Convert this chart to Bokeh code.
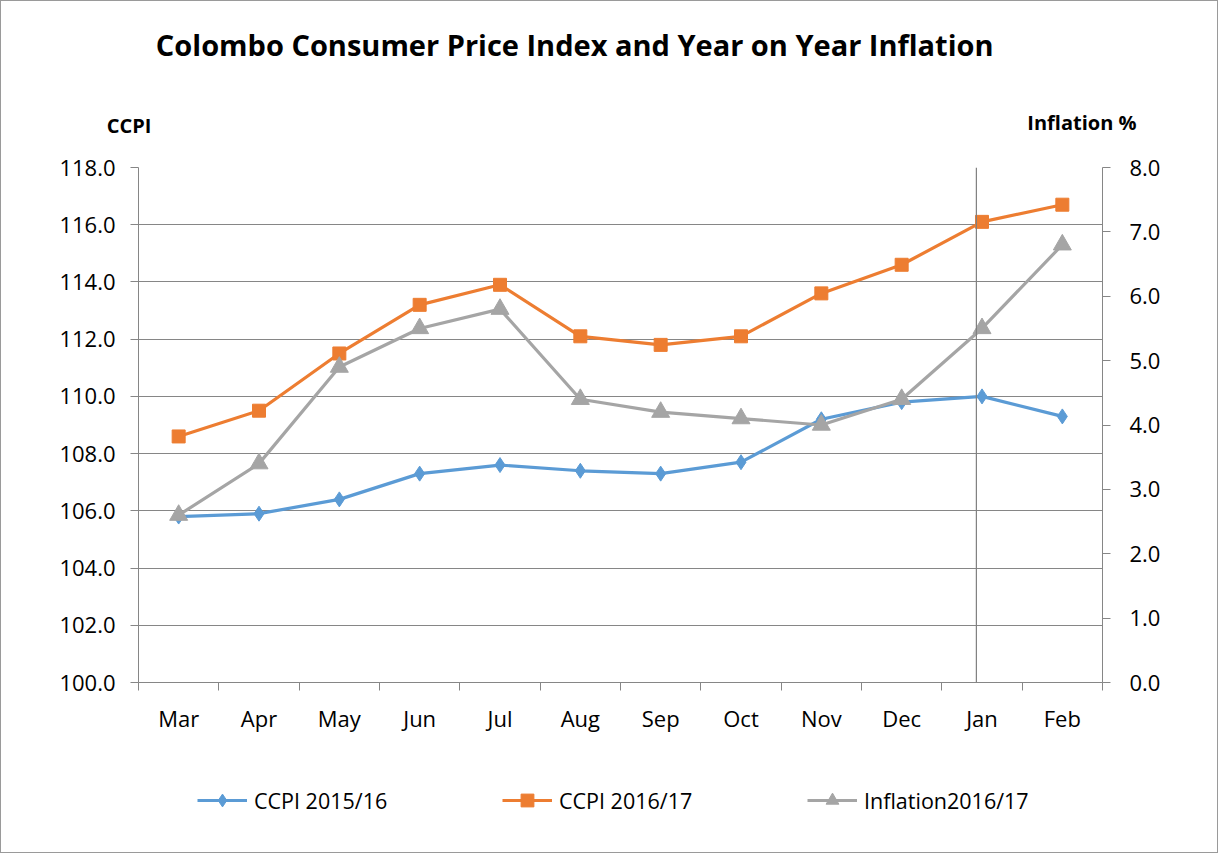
from bokeh.plotting import figure
from bokeh.layouts import column
from bokeh.models import (Range1d, LinearAxis, FixedTicker, Span, Label, Legend, LegendItem,
                          NumeralTickFormatter, Grid)
from bokeh.embed import file_html
from bokeh.resources import INLINE

months = ["Mar", "Apr", "May", "Jun", "Jul", "Aug", "Sep", "Oct", "Nov", "Dec", "Jan", "Feb"]
ccpi_1516 = [105.8, 105.9, 106.4, 107.3, 107.6, 107.4, 107.3, 107.7, 109.2, 109.8, 110.0, 109.3]
ccpi_1617 = [108.6, 109.5, 111.5, 113.2, 113.9, 112.1, 111.8, 112.1, 113.6, 114.6, 116.1, 116.7]
inflation = [2.6, 3.4, 4.9, 5.5, 5.8, 4.4, 4.2, 4.1, 4.0, 4.4, 5.5, 6.8]
left_ticks = [100, 102, 104, 106, 108, 110, 112, 114, 116, 118]
right_ticks = [0, 1, 2, 3, 4, 5, 6, 7, 8]
series_names = ["CCPI 2015/16", "CCPI 2016/17", "Inflation2016/17"]
title_text = "Colombo Consumer Price Index and Year on Year Inflation"

FONT = "Open Sans"
GRID = "#868686"
BLUE = "#5B9BD5"
ORANGE = "#ED7D31"
GRAY = "#A5A5A5"
W = 1216
TOP_H = 146
MAIN_BOTTOM = 60
BOT_H = 110


def bare(fig):
    fig.outline_line_color = None
    fig.xgrid.visible = False
    fig.ygrid.visible = False
    fig.frame_align = False


# ---------- header figure (title + axis captions) ----------
top = figure(output_backend="svg", toolbar_location=None, width=W, height=TOP_H,
             min_border=0, x_range=Range1d(1, W + 1), y_range=Range1d(TOP_H + 1, 1),
             x_axis_type=None, y_axis_type=None)
bare(top)
top.add_layout(Label(x=574.2, y=44, text=title_text,
                     text_font=FONT, text_font_style="bold", text_font_size="29px",
                     text_align="center", text_baseline="middle", text_color="#000000"))
top.add_layout(Label(x=128.5, y=125, text="CCPI",
                     text_font=FONT, text_font_style="bold", text_font_size="20px",
                     text_align="center", text_baseline="middle", text_color="#000000"))
top.add_layout(Label(x=1084, y=121.5, text="Inflation  %",
                     text_font=FONT, text_font_style="bold", text_font_size="20px",
                     text_align="center", text_baseline="middle", text_color="#000000"))

# ---------- main chart ----------
xs = [i + 0.5 for i in range(len(months))]

p = figure(output_backend="svg", toolbar_location=None,
           frame_width=964, frame_height=515,
           min_border_left=137, min_border_right=115, min_border_top=20,
           min_border_bottom=MAIN_BOTTOM,
           x_range=Range1d(0, 12), y_range=Range1d(100, 118),
           x_axis_type=None, y_axis_type=None)
bare(p)
p.extra_y_ranges = {"infl": Range1d(0, 8)}

xaxis = LinearAxis(ticker=FixedTicker(ticks=xs, minor_ticks=list(range(13))))
xaxis.major_label_overrides = {x: m for x, m in zip(xs, months)}
xaxis.major_tick_out = 0
xaxis.major_tick_in = 0
xaxis.minor_tick_out = 8
xaxis.minor_tick_in = 0
xaxis.minor_tick_line_color = GRID
xaxis.axis_line_color = GRID
xaxis.major_label_standoff = 12
xaxis.major_label_text_font = FONT
xaxis.major_label_text_font_size = "22px"
xaxis.major_label_text_color = "#000000"
p.add_layout(xaxis, "below")

yaxis = LinearAxis(ticker=FixedTicker(ticks=left_ticks, minor_ticks=[]),
                   formatter=NumeralTickFormatter(format="0.0"))
yaxis.major_tick_out = 8
yaxis.major_tick_in = 0
yaxis.major_tick_line_color = GRID
yaxis.axis_line_color = GRID
yaxis.major_label_standoff = 15
yaxis.major_label_text_font = FONT
yaxis.major_label_text_font_size = "22px"
yaxis.major_label_text_color = "#000000"
p.add_layout(yaxis, "left")

raxis = LinearAxis(y_range_name="infl", ticker=FixedTicker(ticks=right_ticks, minor_ticks=[]),
                   formatter=NumeralTickFormatter(format="0.0"))
raxis.major_tick_out = 8
raxis.major_tick_in = 0
raxis.major_tick_line_color = GRID
raxis.axis_line_color = GRID
raxis.major_label_standoff = 19
raxis.major_label_text_font = FONT
raxis.major_label_text_font_size = "22px"
raxis.major_label_text_color = "#000000"
p.add_layout(raxis, "right")

hg = Grid(dimension=1, ticker=FixedTicker(ticks=left_ticks), grid_line_color=GRID, grid_line_width=1)
p.add_layout(hg, "center")

p.add_layout(Span(location=10.43, dimension="height", line_color="#7f7f7f", line_width=1.2))

series = [(ccpi_1516, BLUE, "diamond", 15, "default"),
          (ccpi_1617, ORANGE, "square", 13, "default"),
          (inflation, GRAY, "triangle", 18, "infl")]

for ys, col, mk, sz, rng in series:
    p.line(xs, ys, line_color=col, line_width=3.2, y_range_name=rng)
    p.scatter(xs, ys, marker=mk, size=sz, fill_color=col, line_color=col, y_range_name=rng)

# ---------- legend strip (legend proxies drawn outside this strip's visible ranges) ----------
bot = figure(output_backend="svg", toolbar_location=None, width=W, height=BOT_H,
             min_border=0, x_range=Range1d(-100, -99), y_range=Range1d(-100, -99),
             x_axis_type=None, y_axis_type=None)
bare(bot)
items = []
for name, (ys, col, mk, sz, rng) in zip(series_names, series):
    rl = bot.line(xs, ys, line_color=col, line_width=3.2)
    rm = bot.scatter(xs, ys, marker=mk, size=sz, fill_color=col, line_color=col)
    items.append(LegendItem(label=name, renderers=[rl, rm]))

legend = Legend(items=items, orientation="horizontal", location=(196, 36),
                glyph_width=50, glyph_height=32, label_standoff=7, label_width=210, spacing=38,
                padding=0, margin=0, border_line_color=None, background_fill_alpha=0,
                label_text_font=FONT, label_text_font_size="21.5px", label_text_color="#000000")
bot.add_layout(legend, "center")

layout = column(top, p, bot, spacing=0)
layout.styles = {"border": "1px solid #9a9a9a"}

open("out.html", "w").write(file_html(layout, INLINE))
